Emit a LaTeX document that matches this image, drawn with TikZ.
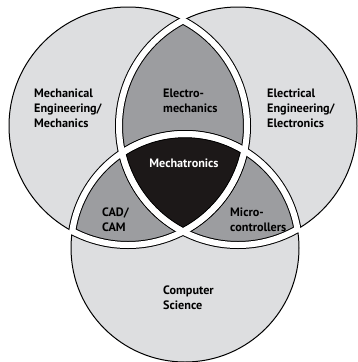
\documentclass[tikz,border=0pt]{standalone}
\usepackage{fontspec}
\setmainfont{PT Sans}
\definecolor{outergray}{RGB}{221,222,224}
\definecolor{pairgray}{RGB}{156,157,160}
\definecolor{coreblack}{RGB}{28,24,24}
\tikzset{
  rim/.style={line width=0.85pt, black},
  gapedge/.style={line width=0.24cm, black},
  gapfill/.style={line width=0.18cm, white},
  venntext/.style={font=\bfseries\fontsize{10.4}{12.8}\selectfont, align=left, inner sep=0pt, anchor=west}
}
\def\circL{(128,126) circle (119)}
\def\circR{(238,126) circle (119)}
\def\circB{(185,248) circle (114)}

\begin{document}
\begin{tikzpicture}[x=0.03cm, y=-0.03cm]
  \useasboundingbox (0,0) rectangle (357,362);

  \draw[rim, fill=outergray] \circL;
  \draw[rim, fill=outergray] \circR;
  \draw[rim, fill=outergray] \circB;

  \begin{scope}
    \clip \circL;
    \fill[pairgray] \circR;
    \fill[pairgray] \circB;
  \end{scope}
  \begin{scope}
    \clip \circR;
    \fill[pairgray] \circB;
  \end{scope}
  \begin{scope}
    \clip \circL;
    \clip \circR;
    \fill[coreblack] \circB;
  \end{scope}

  % white gaps along the inner arcs
  \foreach \px/\py/\pr/\qx/\qy/\qr in {128/126/119/238/126/119, 128/126/119/185/248/114,
      238/126/119/128/126/119, 238/126/119/185/248/114,
      185/248/114/128/126/119, 185/248/114/238/126/119}{
    \begin{scope}
      \clip (\qx,\qy) circle [radius=\qr];
      \draw[gapedge] (\px,\py) circle [radius=\pr];
    \end{scope}
  }
  \foreach \px/\py/\pr/\qx/\qy/\qr in {128/126/119/238/126/119, 128/126/119/185/248/114,
      238/126/119/128/126/119, 238/126/119/185/248/114,
      185/248/114/128/126/119, 185/248/114/238/126/119}{
    \begin{scope}
      \clip (\qx,\qy) circle [radius=\qr+1.5];
      \draw[gapfill] (\px,\py) circle [radius=\pr];
    \end{scope}
  }

  \node[venntext] (mecheng) at (34,108) {Mechanical\\Engineering/\\Mechanics};
  \node[venntext] (eleceng) at (267,108) {Electrical\\Engineering/\\Electronics};
  \node[venntext] (elecmech) at (163,101) {Electro-\\mechanics};
  \node[venntext, anchor=center, text=white] (mechatronics) at (184,163) {Mechatronics};
  \node[venntext] (cadcam) at (102,219.5) {CAD/\\CAM};
  \node[venntext] (microctrl) at (230,219.5) {Micro-\\controllers};
  \node[venntext] (compsci) at (163,297.5) {Computer\\Science};
\end{tikzpicture}
\end{document}
